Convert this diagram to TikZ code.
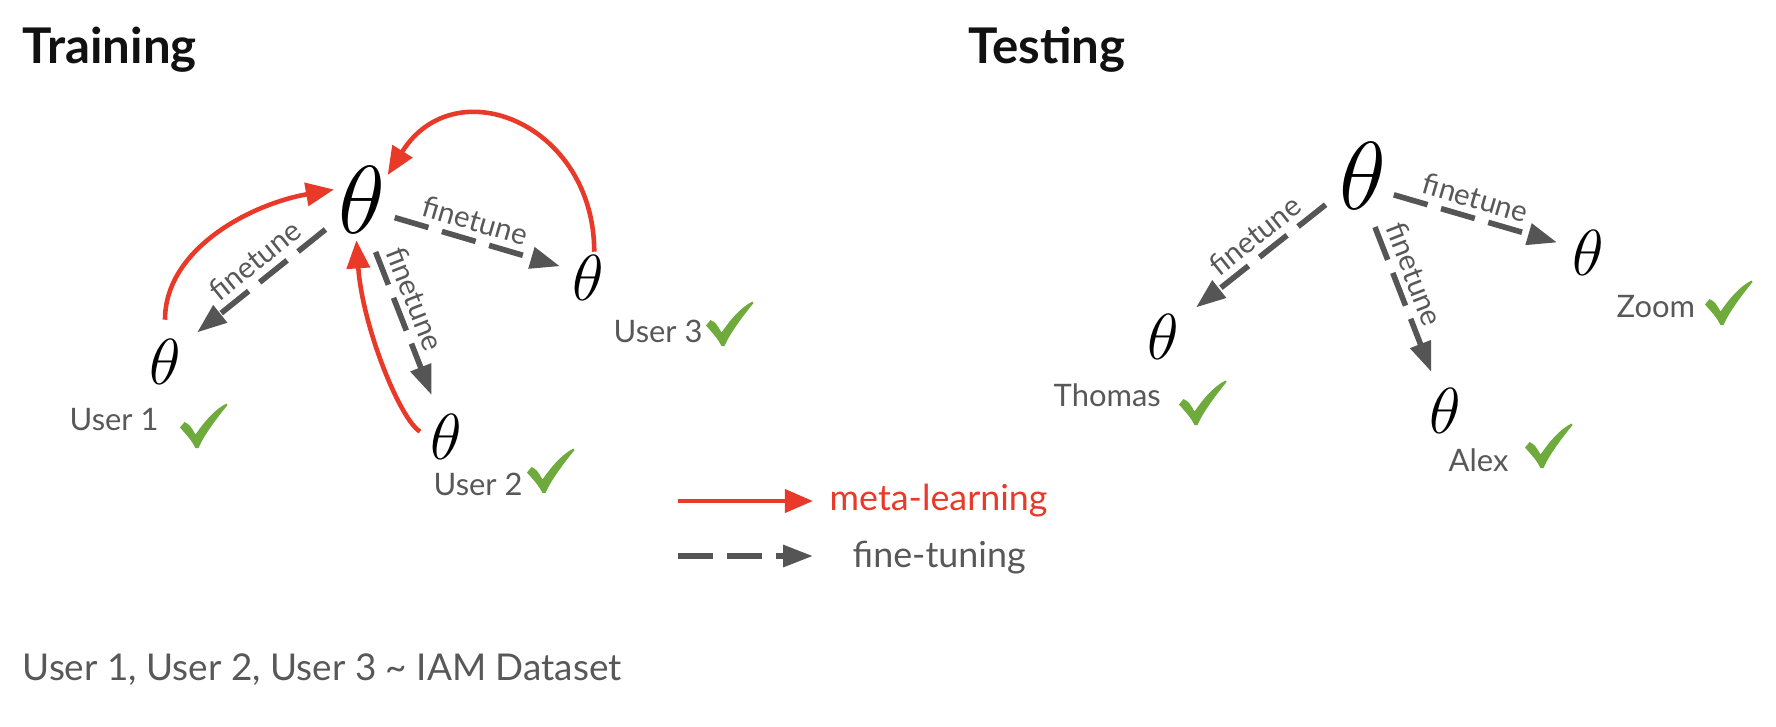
\documentclass[tikz,border=0pt]{standalone}
\usepackage{fix-cm}
\usepackage{fontspec}
\setmainfont{Lato}
\usepackage{tikz}
\usetikzlibrary{arrows.meta}
\definecolor{metared}{RGB}{233,57,40}
\definecolor{arrgray}{RGB}{85,85,85}
\definecolor{txtgray}{RGB}{88,88,88}
\definecolor{okgreen}{RGB}{111,170,60}
\definecolor{titleblack}{RGB}{17,17,17}
\tikzset{
  bigtheta/.style={inner sep=0pt, font=\fontsize{27.5}{30}\selectfont},
  smalltheta/.style={inner sep=0pt, font=\fontsize{18.5}{20}\selectfont},
  heading/.style={anchor=base west, inner sep=0pt, text=titleblack, font=\fontsize{14}{16}\selectfont\bfseries},
  who/.style={anchor=base west, inner sep=0pt, text=txtgray, font=\fontsize{8.8}{10}\selectfont},
  meta/.style={draw=metared, line width=1.3pt, -{Triangle[length=8pt,width=6.5pt]}},
  fine/.style={draw=arrgray, line width=1.6pt, dash pattern=on 10pt off 4pt, -{Triangle[length=8.5pt,width=6pt]}},
  ftlabel/.style={sloped, above, inner sep=1.8pt, text=txtgray, font=\fontsize{8.4}{9}\selectfont},
  pics/checkmark/.style={code={
    \fill[okgreen] (-2.3mm,-0.25mm) -- (-1.85mm,0.3mm) .. controls (-1.3mm,0mm) .. (-0.75mm,-0.95mm)
      .. controls (0.1mm,0.3mm) and (1.2mm,1.6mm) .. (2.35mm,2.15mm) -- (2.45mm,2mm)
      .. controls (1.4mm,0.7mm) and (0.1mm,-1mm) .. (-0.45mm,-2.3mm) -- (-0.75mm,-2.3mm)
      .. controls (-1.2mm,-1.5mm) .. cycle;
  }},
}
\begin{document}
\begin{tikzpicture}
    \useasboundingbox (0,0) rectangle (17.76,-7.26);
    \node[heading] (trn) at (0.22,-0.63) {Training};
    \node[heading] (tst) at (9.68,-0.63) {Testing};
    % training
    \node[bigtheta] (mtheta) at (3.62,-2.00) {$\theta$};
    \node[smalltheta] (uone) at (1.65,-3.62) {$\theta$};
    \node[smalltheta] (utwo) at (4.46,-4.37) {$\theta$};
    \node[smalltheta] (uthree) at (5.88,-2.78) {$\theta$};
    \node[who] (lone) at (0.69,-4.30) {User 1};
    \node[who] (ltwo) at (4.33,-4.95) {User 2};
    \node[who] (lthree) at (6.13,-3.42) {User 3};
    \pic at (2.03,-4.25) {checkmark};
    \pic at (5.50,-4.70) {checkmark};
    \pic at (7.29,-3.23) {checkmark};
    \draw[meta, shorten <=1.9mm, shorten >=0.4mm] (uone.north) to[out=90, in=190] (mtheta.155);
    \draw[meta, shorten <=1.1mm, shorten >=0.6mm] (utwo.west) to[out=150, in=-86, out looseness=0.4, in looseness=1.1] (mtheta.260);
    \draw[meta, shorten <=0.3mm, shorten >=0.3mm] (uthree.75) to[out=90, in=58, looseness=1.5] (mtheta.43);
    \draw[fine, shorten <=1.6mm, shorten >=2mm] (mtheta.219) -- node[ftlabel, pos=0.45] {finetune} (uone.46);
    \draw[fine, shorten <=1.9mm, shorten >=2mm] (mtheta.281) -- node[ftlabel, pos=0.4] {finetune} (utwo.107);
    \draw[fine, shorten <=0.9mm, shorten >=1.2mm] (mtheta.328) -- node[ftlabel, pos=0.45] {finetune} (uthree.153);
    % testing
    \node[bigtheta] (ttheta) at (13.63,-1.76) {$\theta$};
    \node[smalltheta] (thomas) at (11.63,-3.37) {$\theta$};
    \node[smalltheta] (alex) at (14.45,-4.11) {$\theta$};
    \node[smalltheta] (zoom) at (15.88,-2.53) {$\theta$};
    \node[who] (lthomas) at (10.53,-4.06) {Thomas};
    \node[who] (lalex) at (14.48,-4.71) {Alex};
    \node[who] (lzoom) at (16.16,-3.17) {Zoom};
    \pic at (12.02,-4.02) {checkmark};
    \pic at (15.48,-4.45) {checkmark};
    \pic at (17.28,-3.02) {checkmark};
    \draw[fine, shorten <=1.7mm, shorten >=2.1mm] (ttheta.217) -- node[ftlabel, pos=0.45] {finetune} (thomas.45);
    \draw[fine, shorten <=1.8mm, shorten >=1.7mm] (ttheta.279) -- node[ftlabel, pos=0.4] {finetune} (alex.108);
    \draw[fine, shorten <=0.7mm, shorten >=1.5mm] (ttheta.325) -- node[ftlabel, pos=0.45] {finetune} (zoom.159);
    % legend
    \coordinate (m0) at (6.78,-5.01);
    \coordinate (m1) at (8.13,-5.01);
    \draw[meta] (m0) -- (m1);
    \node[anchor=base west, inner sep=0pt, text=metared, font=\fontsize{10.2}{12}\selectfont] (mtxt) at (8.29,-5.10) {meta-learning};
    \coordinate (f0) at (6.78,-5.56);
    \coordinate (f1) at (8.13,-5.56);
    \draw[fine] (f0) -- (f1);
    \node[anchor=base west, inner sep=0pt, text=txtgray, font=\fontsize{10.2}{12}\selectfont] (ftxt) at (8.52,-5.67) {fine-tuning};
    \node[anchor=base west, inner sep=0pt, text=txtgray, font=\fontsize{10.5}{12}\selectfont] (iam) at (0.22,-6.80) {User 1, User 2, User 3 \textasciitilde{} IAM Dataset};
\end{tikzpicture}
\end{document}
